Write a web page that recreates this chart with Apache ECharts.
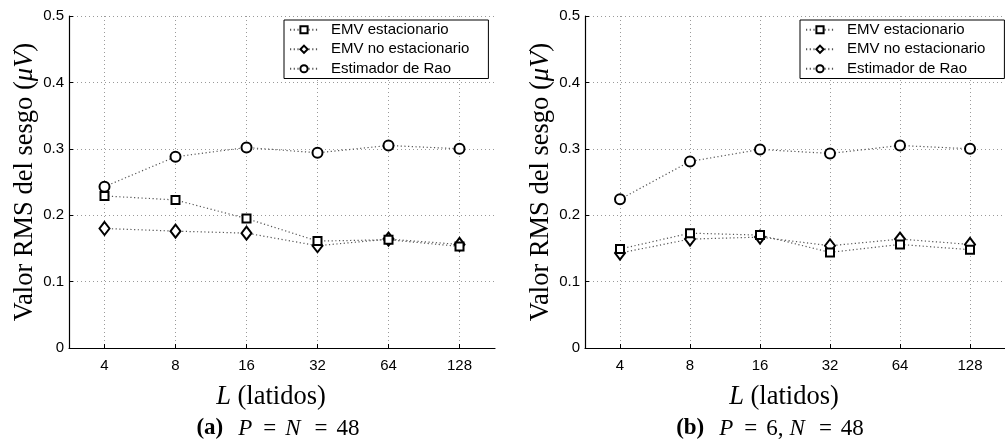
<!DOCTYPE html>
<html>
<head>
<meta charset="utf-8">
<style>
  html, body { margin: 0; padding: 0; background: #fff; }
  #chart { width: 1005px; height: 448px; }
</style>
<script src="https://cdn.jsdelivr.net/npm/echarts@6/dist/echarts.min.js"></script>
</head>
<body>
<div id="chart"></div>
<script>
// Number of beats L (category axis)
const latidos = ['4', '8', '16', '32', '64', '128'];
const yTicks = [0, 0.1, 0.2, 0.3, 0.4, 0.5];

// (a) P = N = 48
const emvEstA   = [0.229, 0.223, 0.195, 0.161, 0.163, 0.153];
const emvNoEstA = [0.180, 0.176, 0.173, 0.154, 0.164, 0.156];
const raoA      = [0.243, 0.288, 0.302, 0.294, 0.305, 0.300];

// (b) P = 6, N = 48
const emvEstB   = [0.149, 0.173, 0.170, 0.144, 0.156, 0.148];
const emvNoEstB = [0.143, 0.164, 0.167, 0.154, 0.164, 0.156];
const raoB      = [0.224, 0.281, 0.299, 0.293, 0.305, 0.300];

const names = ['EMV estacionario', 'EMV no estacionario', 'Estimador de Rao'];

const SERIF = '"Liberation Serif", "DejaVu Serif", serif';
const SANS = '"Liberation Sans", Arial, sans-serif';
const NAME_SIZE = 26.5;
const CAP_SIZE = 23;

const chart = echarts.init(document.getElementById('chart'), null, { renderer: 'canvas' });

function xAxis(gridIndex) {
  return {
    type: 'category',
    gridIndex,
    data: latidos,
    boundaryGap: true,
    axisLine: { show: true, onZero: false, lineStyle: { color: '#000', width: 1.2 } },
    axisTick: { show: true, alignWithLabel: true, inside: true, length: 4, lineStyle: { color: '#000' } },
    axisLabel: { color: '#000', fontFamily: SANS, fontSize: 15, margin: 10 },
    splitLine: { show: true, alignWithLabel: true, lineStyle: { color: '#9a9a9a', type: [1, 3], width: 1 } },
    name: '{i|L} (latidos)',
    nameLocation: 'middle',
    nameGap: 36,
    nameTextStyle: {
      fontFamily: SERIF, fontSize: NAME_SIZE, color: '#000', padding: [0, 22, 0, 0],
      rich: { i: { fontFamily: SERIF, fontSize: NAME_SIZE, fontStyle: 'italic', color: '#000' } }
    }
  };
}

function yAxis(gridIndex) {
  return {
    type: 'value',
    gridIndex,
    min: yTicks[0],
    max: yTicks[yTicks.length - 1],
    interval: 0.1,
    axisLine: { show: true, lineStyle: { color: '#000', width: 1.2 } },
    axisTick: { show: true, inside: true, length: 4, lineStyle: { color: '#000' } },
    axisLabel: {
      color: '#000', fontFamily: SANS, fontSize: 15, margin: 5,
      formatter: v => (v === 0 ? '0' : v.toFixed(1))
    },
    splitLine: { show: true, lineStyle: { color: '#9a9a9a', type: [1, 3], width: 1 } },
    name: 'Valor RMS del sesgo ({i|μV})',
    nameLocation: 'middle',
    nameGap: 30,
    nameTextStyle: {
      fontFamily: SERIF, fontSize: NAME_SIZE, color: '#000',
      rich: { i: { fontFamily: SERIF, fontSize: NAME_SIZE, fontStyle: 'italic', color: '#000' } }
    }
  };
}

const symbolDefs = [
  { symbol: 'rect', symbolSize: 8 },
  { symbol: 'diamond', symbolSize: [10, 13] },
  { symbol: 'circle', symbolSize: 10 }
];

function makeSeries(values, idx, gridIdx) {
  return {
    name: names[idx],
    type: 'line',
    xAxisIndex: gridIdx,
    yAxisIndex: gridIdx,
    data: values,
    symbol: symbolDefs[idx].symbol,
    symbolSize: symbolDefs[idx].symbolSize,
    showAllSymbol: true,
    lineStyle: { color: '#555', width: 1.2, type: [1.2, 2.5] },
    itemStyle: { color: '#fff', borderColor: '#000', borderWidth: 2 },
    emphasis: { disabled: true },
    z: 3 - idx
  };
}

function legend(left) {
  return {
    left,
    top: 20,
    orient: 'vertical',
    backgroundColor: '#fff',
    borderColor: '#000',
    borderWidth: 1,
    borderRadius: 0,
    padding: [2, 19, 2, 5],
    itemGap: 4,
    itemWidth: 28,
    itemHeight: 9,
    textStyle: { fontFamily: SANS, fontSize: 15, lineHeight: 15.5, color: '#000', padding: [0, 0, 0, 8] },
    data: names,
    selectedMode: false
  };
}

function caption(left, text) {
  const base = { fontFamily: SERIF, fontSize: CAP_SIZE, color: '#000' };
  return {
    left, top: 412,
    textAlign: 'center',
    text,
    textStyle: {
      fontFamily: SERIF, fontSize: CAP_SIZE, fontWeight: 'normal', color: '#000',
      rich: {
        b: Object.assign({}, base, { fontWeight: 'bold', padding: [0, 15, 0, 0] }),
        i: Object.assign({}, base, { fontStyle: 'italic', padding: [0, 2, 0, 0] }),
        w: Object.assign({}, base, { fontStyle: 'italic', padding: [0, 5, 0, 0] }),
        e: Object.assign({}, base, { padding: [0, 9, 0, 9] }),
        n: base,
        c: Object.assign({}, base, { padding: [0, 6, 0, 0] })
      }
    }
  };
}

chart.setOption({
  animation: false,
  backgroundColor: '#fff',
  title: [
    caption(273, '{b|(a)}{i|P}{e|=}{w|N}{e|=}{n|48}'),
    caption(765, '{b|(b)}{i|P}{e|=}{c|6,}{w|N}{e|=}{n|48}')
  ],
  legend: [legend(284), legend(800)],
  grid: [
    { left: 69, top: 16, width: 426, height: 332, containLabel: false },
    { left: 585, top: 16, width: 426, height: 332, containLabel: false }
  ],
  xAxis: [xAxis(0), xAxis(1)],
  yAxis: [yAxis(0), yAxis(1)],
  series: [
    makeSeries(emvEstA, 0, 0),
    makeSeries(emvNoEstA, 1, 0),
    makeSeries(raoA, 2, 0),
    makeSeries(emvEstB, 0, 1),
    makeSeries(emvNoEstB, 1, 1),
    makeSeries(raoB, 2, 1)
  ]
});
</script>
</body>
</html>
